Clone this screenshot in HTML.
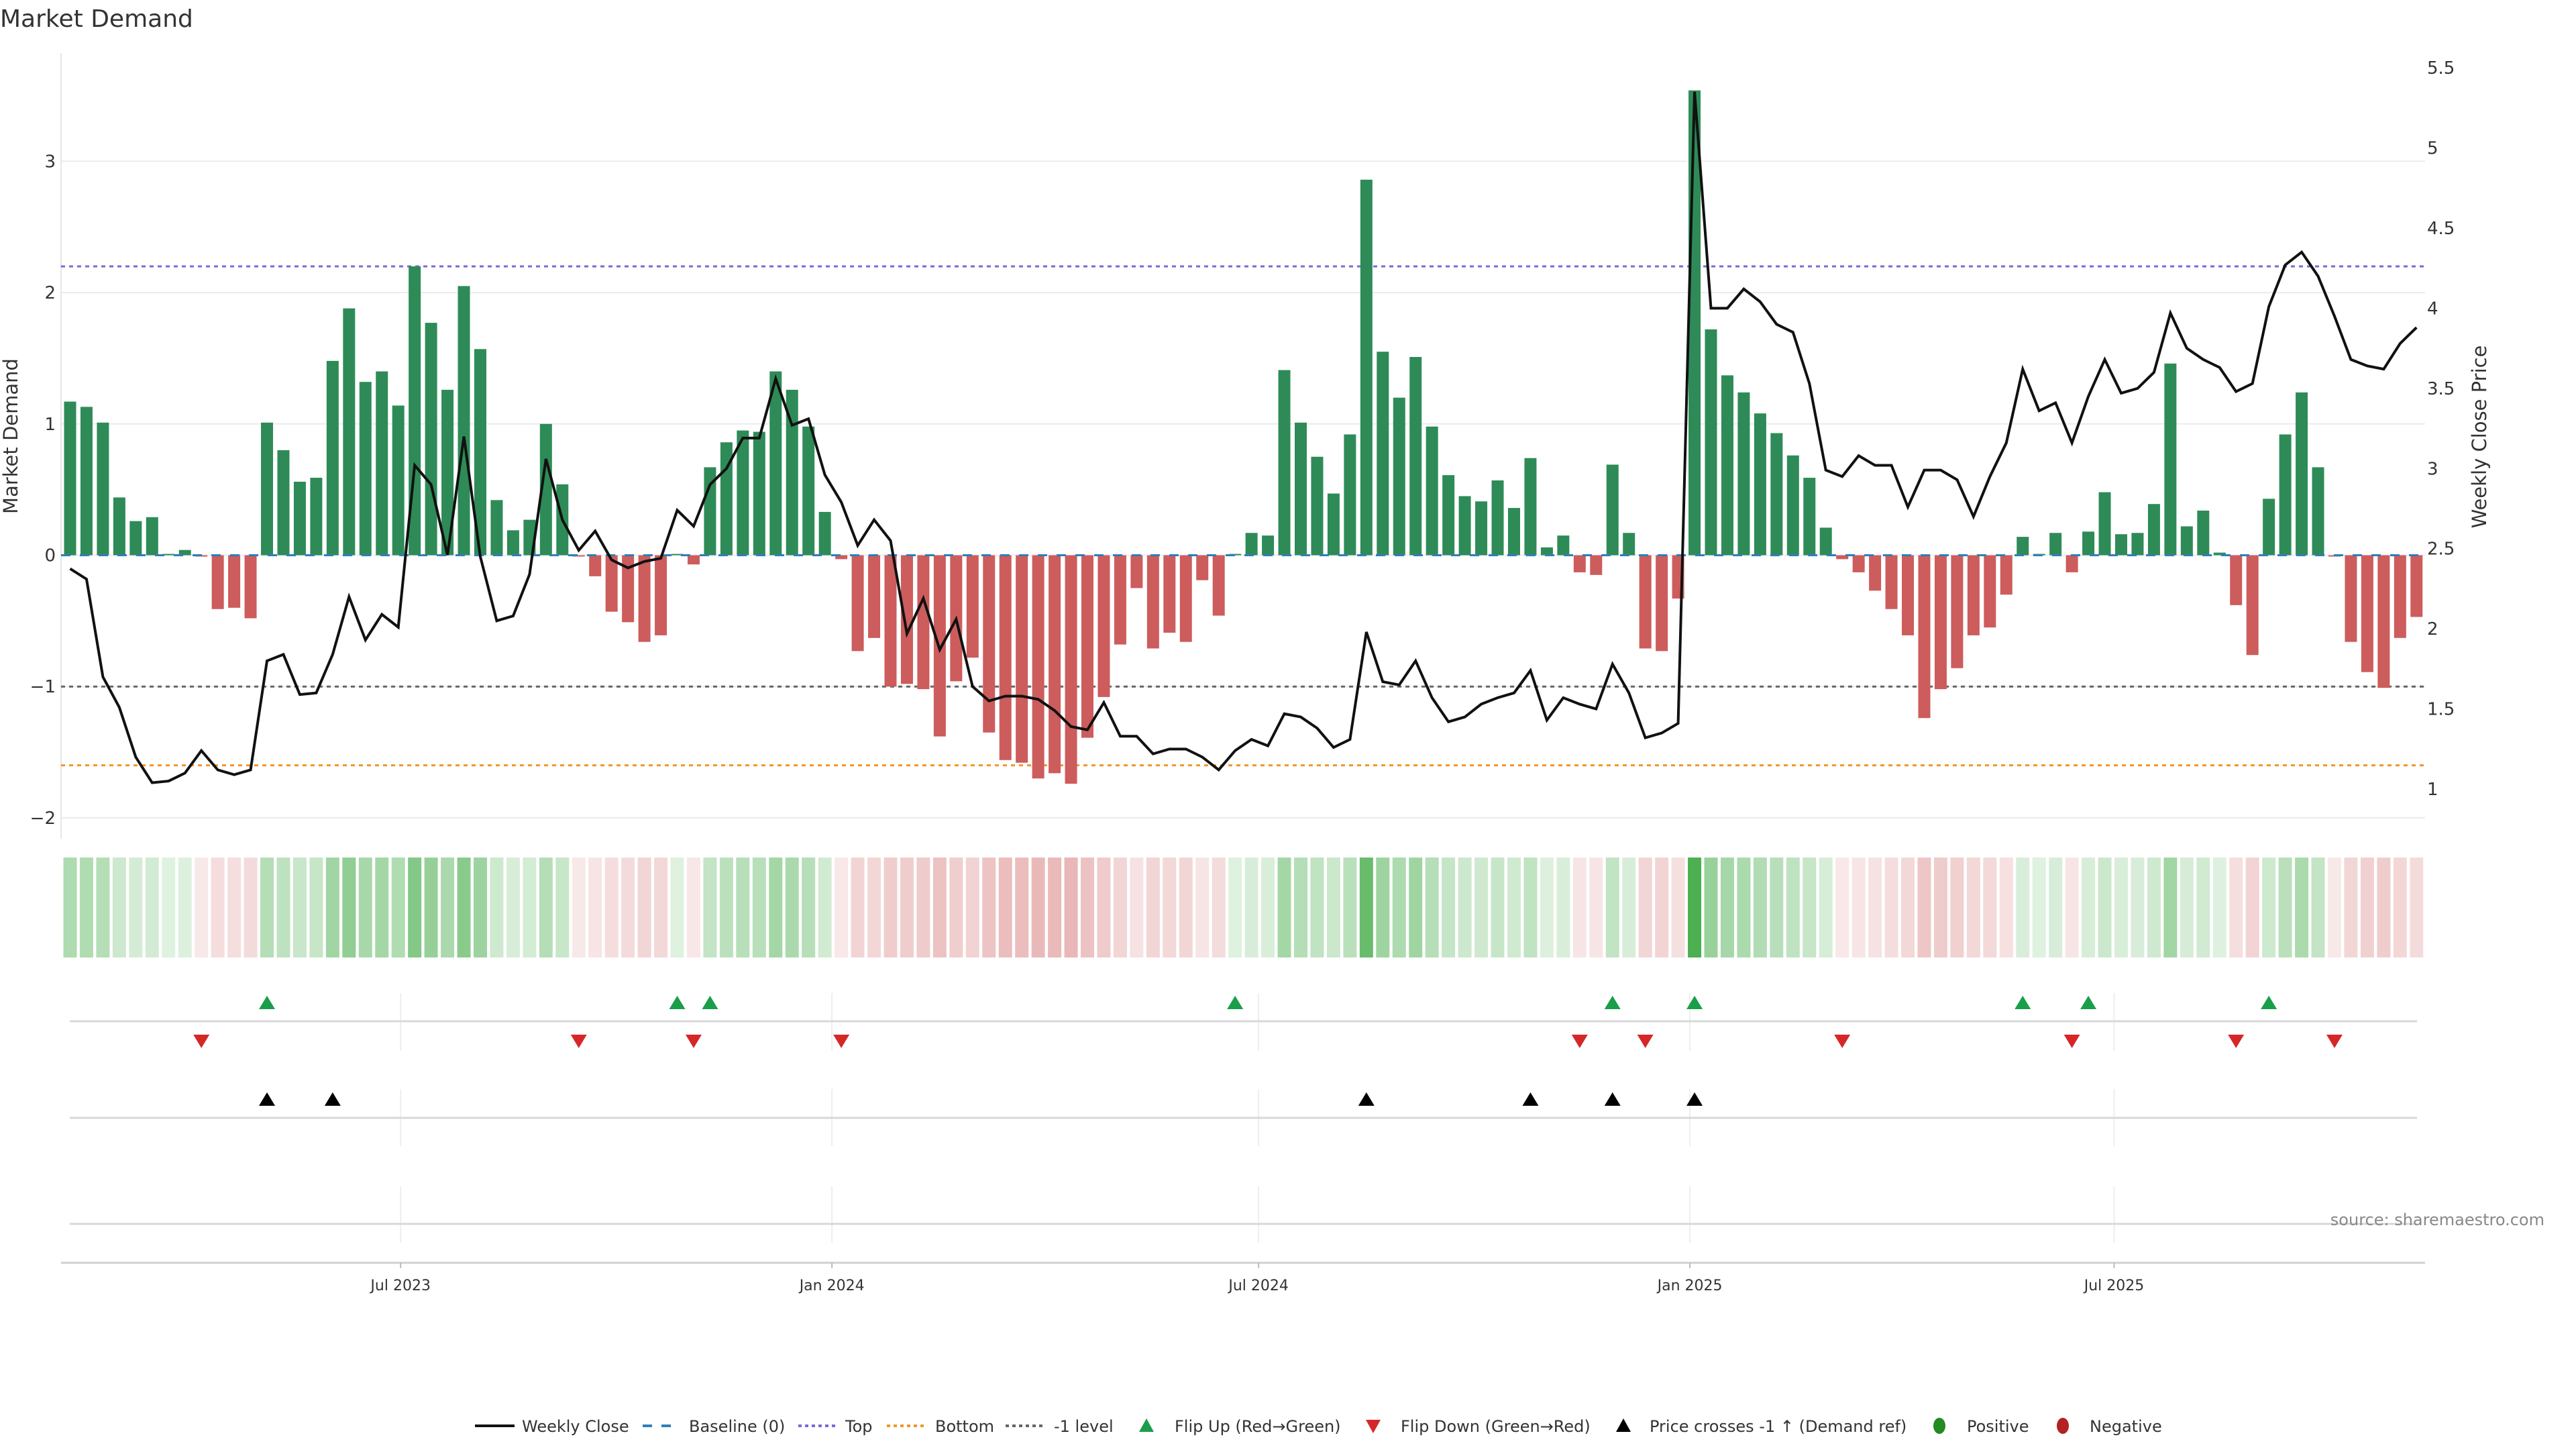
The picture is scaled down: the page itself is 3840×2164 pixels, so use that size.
<!DOCTYPE html>
<html><head><meta charset="utf-8">
<style>
html,body{margin:0;padding:0;background:#fff;}
body{width:3840px;height:2160px;overflow:hidden;font-family:"DejaVu Sans","Liberation Sans",sans-serif;}
svg text{font-family:"DejaVu Sans","Liberation Sans",sans-serif;}
</style></head>
<body>
<svg id="chart" width="3840" height="2160" viewBox="0 0 3840 2160" xmlns="http://www.w3.org/2000/svg">
<text x="0" y="40" font-size="36" fill="#333">Market Demand</text>
<text transform="translate(26,650) rotate(-90)" text-anchor="middle" font-size="29" fill="#333">Market Demand</text>
<text transform="translate(3706,651) rotate(-90)" text-anchor="middle" font-size="29" fill="#333">Weekly Close Price</text>
<g id="grid"></g><g id="refs"></g><g id="bars"></g><g id="line"></g><g id="strip"></g><g id="panels"></g><g id="xaxis"></g><g id="legend"></g>
<text x="3793" y="1826" text-anchor="end" font-size="24" fill="#888">source: sharemaestro.com</text>
</svg>
<script>
const demand=[1.17,1.13,1.01,0.44,0.26,0.29,0.01,0.04,-0.01,-0.41,
-0.40,-0.48,1.01,0.80,0.56,0.59,1.48,1.88,1.32,1.40,
1.14,2.20,1.77,1.26,2.05,1.57,0.42,0.19,0.27,1.00,
0.54,-0.01,-0.16,-0.43,-0.51,-0.66,-0.61,0.01,-0.07,0.67,
0.86,0.95,0.94,1.40,1.26,0.98,0.33,-0.03,-0.73,-0.63,
-1.00,-0.98,-1.02,-1.38,-0.96,-0.78,-1.35,-1.56,-1.58,-1.70,
-1.66,-1.74,-1.39,-1.08,-0.68,-0.25,-0.71,-0.59,-0.66,-0.19,
-0.46,0.01,0.17,0.15,1.41,1.01,0.75,0.47,0.92,2.86,
1.55,1.20,1.51,0.98,0.61,0.45,0.41,0.57,0.36,0.74,
0.06,0.15,-0.13,-0.15,0.69,0.17,-0.71,-0.73,-0.33,3.54,
1.72,1.37,1.24,1.08,0.93,0.76,0.59,0.21,-0.03,-0.13,
-0.27,-0.41,-0.61,-1.24,-1.02,-0.86,-0.61,-0.55,-0.30,0.14,
0.01,0.17,-0.13,0.18,0.48,0.16,0.17,0.39,1.46,0.22,
0.34,0.02,-0.38,-0.76,0.43,0.92,1.24,0.67,-0.01,-0.66,
-0.89,-1.01,-0.63,-0.47];
const price=[2.375,2.31,1.70,1.51,1.20,1.04,1.05,1.10,1.24,1.12,
1.09,1.12,1.80,1.84,1.59,1.60,1.84,2.20,1.93,2.09,
2.01,3.02,2.90,2.46,3.20,2.45,2.05,2.08,2.34,3.06,
2.68,2.49,2.61,2.43,2.38,2.42,2.44,2.74,2.64,2.90,
3.00,3.19,3.19,3.56,3.27,3.31,2.96,2.79,2.52,2.68,
2.55,1.97,2.19,1.87,2.06,1.64,1.55,1.58,1.58,1.56,
1.49,1.39,1.37,1.54,1.33,1.33,1.22,1.25,1.25,1.20,
1.12,1.24,1.31,1.27,1.47,1.45,1.38,1.26,1.31,1.98,
1.67,1.65,1.80,1.57,1.42,1.45,1.53,1.57,1.60,1.74,
1.43,1.57,1.53,1.50,1.78,1.60,1.32,1.35,1.41,5.35,
4.00,4.00,4.12,4.04,3.90,3.85,3.53,2.99,2.95,3.08,
3.02,3.02,2.76,2.99,2.99,2.93,2.70,2.95,3.16,3.62,
3.36,3.41,3.16,3.45,3.68,3.47,3.50,3.60,3.97,3.75,
3.68,3.63,3.48,3.53,4.01,4.27,4.35,4.20,3.95,3.68,
3.64,3.62,3.78,3.88];
const demandTicks=[3,2,1,0,-1,-2];
const demandTickLabels=['3','2','1','0','\u22121','\u22122'];
const priceTicks=[5.5,5,4.5,4,3.5,3,2.5,2,1.5,1];
const priceTickLabels=['5.5','5','4.5','4','3.5','3','2.5','2','1.5','1'];
const startDate='2023-02-10';
const dateTicks=['2023-07-01','2024-01-01','2024-07-01','2025-01-01','2025-07-01'];
const dateTickLabels=['Jul 2023','Jan 2024','Jul 2024','Jan 2025','Jul 2025'];
const topLevel=2.2, bottomLevel=-1.6, minusLevel=-1;

const NS='http://www.w3.org/2000/svg';
const X0=104.5, STEP=24.46, LEFT=91, RIGHT=3615;
function xi(i){return X0+i*STEP;}
function xd(d){const days=(new Date(d)-new Date(startDate))/86400000;return X0+days/7*STEP;}
function yD(v){return 827.5-v*195.7;}
function yP(p){return 101+(5.5-p)*238.9;}
function pFromD(v){return 5.5-(yD(v)-101)/238.9;}
function mk(tag,attrs,parent){const e=document.createElementNS(NS,tag);for(const k in attrs)e.setAttribute(k,attrs[k]);parent.appendChild(e);return e;}
const G=id=>document.getElementById(id);

const grid=G('grid');
demandTicks.forEach((t,i)=>{
  const l=mk('line',{x1:LEFT,x2:RIGHT,y1:yD(t),y2:yD(t),stroke:'#ebebf0','stroke-width':2},grid);
  
  
  const tx=mk('text',{x:83,y:yD(t)+9,'text-anchor':'end','font-size':26,fill:'#333'},grid);
  tx.textContent=demandTickLabels[i];
  
  
});
priceTicks.forEach((t,i)=>{
  const tx=mk('text',{x:3618,y:yP(t)+9,'font-size':26,fill:'#333'},grid);
  tx.textContent=priceTickLabels[i];
  
  
});
const ax=mk('line',{x1:LEFT,x2:LEFT,y1:79,y2:1250,stroke:'#e6e6e6','stroke-width':2},grid);



const refs=G('refs');
[[topLevel,'#7b68d9','top-line'],[minusLevel,'#666','minus-one-line'],[bottomLevel,'#f0962a','bottom-line']].forEach(r=>{
  const l=mk('line',{x1:LEFT,x2:RIGHT,y1:yD(r[0]),y2:yD(r[0]),stroke:r[1],'stroke-width':3,'stroke-dasharray':'6,6'},refs);
  
  
});

const bars=G('bars');
demand.forEach((v,i)=>{
  const y=Math.min(yD(v),yD(0)),h=Math.abs(yD(v)-yD(0));
  const b=mk('rect',{x:xi(i)-9,y:y,width:18,height:Math.max(h,0.5),fill:v>=0?'#2e8b57':'#cd5c5c'},bars);
  
  
});
const bl=mk('line',{x1:LEFT,x2:RIGHT,y1:yD(0),y2:yD(0),stroke:'#2f7fb8','stroke-width':3,'stroke-dasharray':'14,14'},bars);



const pl=mk('polyline',{points:price.map((p,i)=>xi(i)+','+yP(p)).join(' '),fill:'none',stroke:'#111','stroke-width':4,'stroke-linejoin':'miter'},G('line'));



const strip=G('strip');
const maxAbs=Math.max(...demand.map(Math.abs));
demand.forEach((v,i)=>{
  const a=0.18+0.82*Math.abs(v)/maxAbs;
  const c=mk('rect',{x:xi(i)-10,y:1278,width:20,height:149,fill:v>=0?'rgb(76,175,80)':'rgb(205,92,92)','fill-opacity':v>=0?a:a*0.75},strip);
  
  
});

const panels=G('panels');
const panelDefs=[[1480,1566,1522],[1623,1708,1666],[1768,1852,1824]];
panelDefs.forEach(p=>{
  dateTicks.forEach(d=>{
    const v=mk('line',{x1:xd(d),x2:xd(d),y1:p[0],y2:p[1],stroke:'#eeeeee','stroke-width':2},panels);
    
    
  });
  const h=mk('line',{x1:104,x2:3603,y1:p[2],y2:p[2],stroke:'#d8d8d8','stroke-width':3},panels);
  
  
});
function tri(x,y,up,col,name){
  const pts=up?[[x,y-10],[x-12,y+10],[x+12,y+10]]:[[x,y+10],[x-12,y-10],[x+12,y-10]];
  const t=mk('polygon',{points:pts.map(p=>p.join(',')).join(' '),fill:col},panels);
  
  
}
const crossLevel=pFromD(minusLevel);
for(let i=1;i<demand.length;i++){
  if(demand[i-1]<0&&demand[i]>=0) tri(xi(i),1494,true,'#1a9e4a','flip-up-marker');
  if(demand[i-1]>=0&&demand[i]<0) tri(xi(i),1552,false,'#d62728','flip-down-marker');
  if(price[i-1]<crossLevel&&price[i]>=crossLevel) tri(xi(i),1638,true,'#000','price-cross-marker');
}

const xa=G('xaxis');
const xl=mk('line',{x1:LEFT,x2:3615,y1:1882,y2:1882,stroke:'#d0d0d0','stroke-width':3},xa);


dateTicks.forEach((d,i)=>{
  const tk=mk('line',{x1:xd(d),x2:xd(d),y1:1882,y2:1890,stroke:'#bbb','stroke-width':2},xa);
  
  
  const t=mk('text',{x:xd(d),y:1923,'text-anchor':'middle','font-size':22,fill:'#333'},xa);
  t.textContent=dateTickLabels[i];
  
  
});

const lg=G('legend');const LY=2125;
function ltext(x,s){const t=mk('text',{x:x,y:LY+9,'font-size':24,fill:'#333'},lg);t.textContent=s;}
function lline(x1,x2,col,dash,name){const l=mk('line',{x1:x1,x2:x2,y1:LY,y2:LY,stroke:col,'stroke-width':4,'stroke-dasharray':dash},lg);}
lline(708,767,'#111','none','legend-weekly-close');ltext(778,'Weekly Close');
lline(958,1011,'#2f7fb8','14,14','legend-baseline');ltext(1027,'Baseline (0)');
lline(1190,1245,'#7b68d9','5,5','legend-top');ltext(1260,'Top');
lline(1322,1377,'#f0962a','5,5','legend-bottom');ltext(1394,'Bottom');
lline(1499,1555,'#666','5,5','legend-minus-one');ltext(1571,'-1 level');
function ltri(x,up,col,name){const pts=up?[[x,LY-11],[x-11,LY+9],[x+11,LY+9]]:[[x,LY+11],[x-11,LY-9],[x+11,LY-9]];const t=mk('polygon',{points:pts.map(p=>p.join(',')).join(' '),fill:col},lg);}
ltri(1709,true,'#1a9e4a','legend-flip-up');ltext(1751,'Flip Up (Red\u2192Green)');
ltri(2047,false,'#d62728','legend-flip-down');ltext(2088,'Flip Down (Green\u2192Red)');
ltri(2420,true,'#000','legend-price-cross');ltext(2459,'Price crosses -1 \u2191 (Demand ref)');
const c1=mk('ellipse',{cx:2891,cy:LY,rx:9,ry:12,fill:'#228b22'},lg);ltext(2932,'Positive');
const c2=mk('ellipse',{cx:3075,cy:LY,rx:9,ry:12,fill:'#b22222'},lg);ltext(3115,'Negative');
</script>
</body></html>
